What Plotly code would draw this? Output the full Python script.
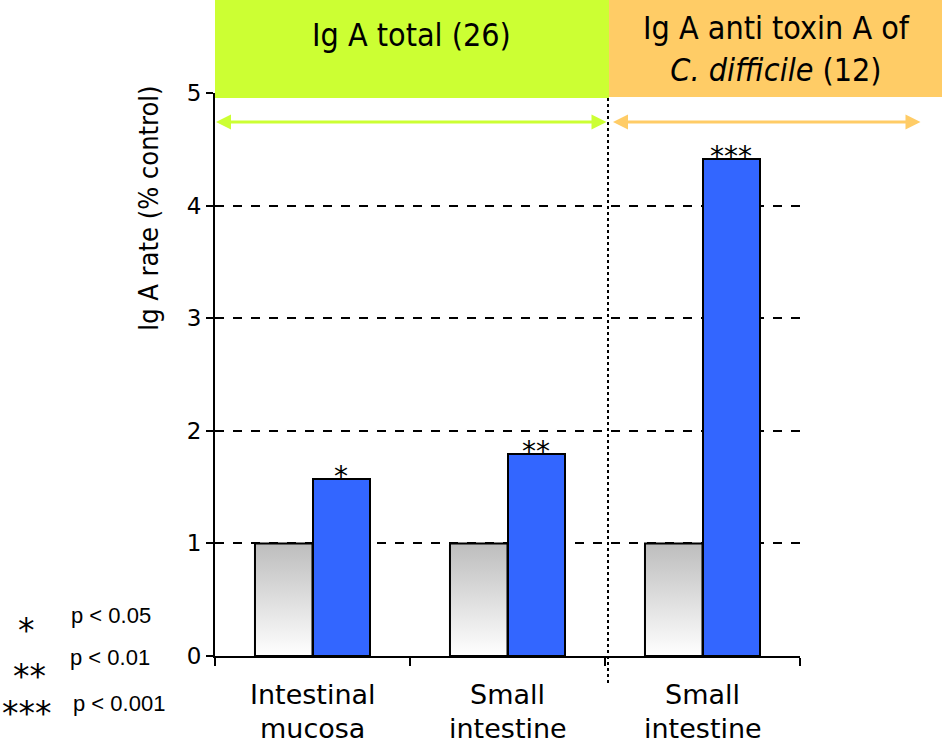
import plotly.graph_objects as go

# ---------------- data ----------------
cat_line1 = ["Intestinal", "Small", "Small"]
cat_line2 = ["mucosa", "intestine", "intestine"]
control = [1.0, 1.0, 1.0]
treated = [1.57, 1.79, 4.41]
significance = ["*", "**", "***"]
y_ticks = [0, 1, 2, 3, 4, 5]
header_left = "Ig A total (26)"
header_right = "Ig A anti toxin A of<br><i>C. difficile</i> (12)"
legend_stars = ["*", "**", "***"]
legend_p = ["p < 0.05", "p < 0.01", "p < 0.001"]
y_title = "Ig A rate (% control)"

# ---------------- geometry (screen pixels) ----------------
W, H = 942, 749
PL, PR, PT, PB = 215, 800, 93, 656          # plot area on screen
ML, MT = PL, PT
MR, MB = W - PR, H - PB
PW, PH = PR - PL, PB - PT


def px2x(p):
    return (p - PL) / PW


def py2y(p):
    return (PB - p) / PH


n = len(control)
idx = list(range(n))
BW = 0.295

fig = go.Figure()

# control bars (gradient filled) built from data
gx, gy = [], []
for i, v in zip(idx, control):
    gx += [i - BW, i - BW, i, i, i - BW, None]
    gy += [0, v, v, 0, 0, None]
fig.add_trace(go.Scatter(
    x=gx, y=gy, mode="lines", fill="toself",
    fillgradient=dict(type="vertical", start=0, stop=1,
                      colorscale=[[0, "#ffffff"], [1, "#bdbdbd"]]),
    line=dict(color="black", width=2),
    hoverinfo="skip", showlegend=False,
))

# treated bars
fig.add_trace(go.Bar(
    x=idx, y=treated, width=BW, offset=0,
    marker=dict(color="#3366FF", line=dict(color="black", width=2)),
    showlegend=False,
))

ann = []
C = dict(xanchor="center", yanchor="middle", showarrow=False)
# significance stars over bars
for i, v, s in zip(idx, treated, significance):
    ann.append(dict(x=i + BW / 2, y=v, xref="x", yref="y", text=s, yshift=3,
                    font=dict(family="DejaVu Sans", size=28, color="black"), **C))

# category labels
lab_font = dict(family="DejaVu Sans", size=27, color="black")
for i, a, b in zip(idx, cat_line1, cat_line2):
    ann.append(dict(x=i, y=py2y(694), xref="x", yref="paper", text=a, font=lab_font, **C))
    ann.append(dict(x=i, y=py2y(728), xref="x", yref="paper", text=b, font=lab_font, **C))

# y title
ann.append(dict(x=px2x(148), y=py2y(208), xref="paper", yref="paper",
                text=y_title, textangle=-90,
                font=dict(family="DejaVu Sans Condensed, DejaVu Sans", size=27, color="black"), **C))

# headers
hfont = dict(family="DejaVu Sans Condensed, DejaVu Sans", size=32, color="black")
ann.append(dict(x=px2x(411), y=py2y(35), xref="paper", yref="paper",
                text=header_left, font=hfont, **C))
ann.append(dict(x=px2x(776), y=py2y(49), xref="paper", yref="paper",
                text=header_right, font=hfont, **C))

# double arrows
ann.append(dict(x=px2x(216), y=py2y(122), xref="paper", yref="paper",
                ax=608 - 216, ay=0, axref="pixel", ayref="pixel", text="",
                showarrow=True, arrowhead=2, arrowside="end+start",
                arrowwidth=3, arrowsize=1, arrowcolor="#CCFF33", standoff=0, startstandoff=0))
ann.append(dict(x=px2x(613), y=py2y(122), xref="paper", yref="paper",
                ax=922 - 613, ay=0, axref="pixel", ayref="pixel", text="",
                showarrow=True, arrowhead=2, arrowside="end+start",
                arrowwidth=3, arrowsize=1, arrowcolor="#FFCC66", standoff=0, startstandoff=0))

# significance legend
star_pos = [(26, 630), (29, 676), (27, 713)]
p_pos = [(111, 615), (110, 657), (119, 703)]
for s, (sx, sy) in zip(legend_stars, star_pos):
    ann.append(dict(x=px2x(sx), y=py2y(sy), xref="paper", yref="paper", text=s,
                    font=dict(family="DejaVu Sans", size=33, color="black"), **C))
for t, (tx, ty) in zip(legend_p, p_pos):
    ann.append(dict(x=px2x(tx), y=py2y(ty), xref="paper", yref="paper", text=t,
                    font=dict(family="Liberation Sans", size=22, color="black"), **C))

shapes = [
    dict(type="rect", xref="paper", yref="paper", x0=px2x(215), x1=px2x(609),
         y0=py2y(98), y1=py2y(0), fillcolor="#CCFF33", line=dict(width=0), layer="above"),
    dict(type="rect", xref="paper", yref="paper", x0=px2x(609), x1=px2x(942),
         y0=py2y(97), y1=py2y(0), fillcolor="#FFCC66", line=dict(width=0), layer="above"),
    dict(type="line", xref="paper", yref="paper", x0=px2x(608), x1=px2x(608),
         y0=py2y(98), y1=py2y(685), line=dict(color="black", width=2, dash="dot")),
]

fig.update_layout(
    width=W, height=H, autosize=False,
    margin=dict(l=ML, r=MR, t=MT, b=MB, pad=0),
    paper_bgcolor="white", plot_bgcolor="white",
    annotations=ann, shapes=shapes,
    xaxis=dict(range=[-0.5, n - 0.5], showline=True, linecolor="black", linewidth=2,
               tickvals=[i - 0.5 for i in range(n + 1)], ticks="outside", ticklen=8,
               tickwidth=2, tickcolor="black", showticklabels=False,
               showgrid=False, zeroline=False, fixedrange=True),
    yaxis=dict(range=[0, 5], tickvals=y_ticks, ticks="outside", ticklen=7,
               tickwidth=2, tickcolor="black", showline=True, linecolor="black",
               linewidth=2, showgrid=True, gridcolor="black", gridwidth=2,
               griddash="dash", zeroline=False,
               tickfont=dict(family="DejaVu Sans", size=23, color="black"),
               fixedrange=True),
    bargap=0,
)

fig.write_html("out.html", config={"displayModeBar": False},
               post_script="document.body.style.margin='0px';document.body.style.overflow='hidden';")
